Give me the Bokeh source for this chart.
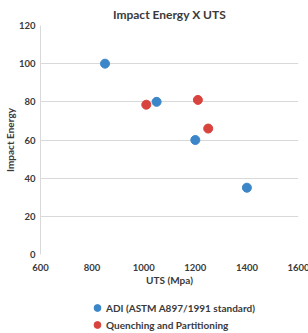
from bokeh.plotting import figure
from bokeh.models import Legend, LegendItem, FixedTicker, Range1d
from bokeh.layouts import column
from bokeh.embed import file_html
from bokeh.resources import INLINE

# Data
adi_uts = [850, 1050, 1200, 1400]
adi_energy = [100, 80, 60, 35]
qp_uts = [1010, 1210, 1250]
qp_energy = [78.5, 81, 66]
series_names = ["ADI (ASTM A897/1991 standard)", "Quenching and Partitioning"]
x_ticks = [600, 800, 1000, 1200, 1400, 1600]
y_ticks = [0, 20, 40, 60, 80, 100, 120]

FONT = "Lato"
TXT = "#3a3a3a"
BLUE = "#3A86C8"
RED = "#D8433D"

p = figure(frame_width=258, frame_height=229, output_backend="svg", toolbar_location=None,
           x_range=Range1d(600, 1600), y_range=Range1d(0, 120),
           min_border_left=39, min_border_right=11, min_border_top=25, min_border_bottom=36)

p.title.text = "Impact Energy X UTS"
p.title.align = "center"
p.title.text_font = FONT
p.title.text_font_size = "12px"
p.title.text_font_style = "bold"
p.title.text_color = TXT
p.title.offset = 0
p.title.standoff = 8

p.outline_line_color = None
p.background_fill_color = "white"
p.border_fill_color = "white"

p.xaxis.ticker = FixedTicker(ticks=x_ticks)
p.yaxis.ticker = FixedTicker(ticks=y_ticks)
for ax in (p.xaxis[0], p.yaxis[0]):
    ax.major_tick_line_color = None
    ax.minor_tick_line_color = None
    ax.major_tick_in = 0
    ax.major_tick_out = 0
    ax.major_label_text_font = FONT
    ax.major_label_text_font_size = "9.5px"
    ax.major_label_text_font_style = "bold"
    ax.major_label_text_color = TXT
    ax.axis_label_text_font = FONT
    ax.axis_label_text_font_size = "10px"
    ax.axis_label_text_font_style = "bold"
    ax.axis_label_text_color = TXT
    ax.axis_label_text_line_height = 1.0
p.xaxis.axis_line_color = None
p.yaxis.axis_line_color = "#d9d9d9"
p.xaxis.axis_label = "UTS (Mpa)"
p.yaxis.axis_label = "Impact Energy"
p.xaxis.major_label_standoff = 9
p.yaxis.major_label_standoff = 5
p.xaxis.axis_label_standoff = 0
p.yaxis.axis_label_standoff = 0

p.xgrid.grid_line_color = None
p.ygrid.grid_line_color = "#d9d9d9"

p.scatter(adi_uts, adi_energy, size=9, color=BLUE)
p.scatter(qp_uts, qp_energy, size=9, color=RED)

# legend strip below the chart (series drawn out of its view, only the legend shows)
p2 = figure(width=308, height=43, output_backend="svg", toolbar_location=None,
            x_range=Range1d(0, 1), y_range=Range1d(0, 1), x_axis_type=None, y_axis_type=None,
            min_border_left=0, min_border_right=0, min_border_top=0, min_border_bottom=0)
p2.outline_line_color = None
p2.xgrid.grid_line_color = None
p2.ygrid.grid_line_color = None
l1 = p2.scatter(adi_uts, adi_energy, size=9, color=BLUE)
l2 = p2.scatter(qp_uts, qp_energy, size=9, color=RED)

legend = Legend(items=[LegendItem(label=series_names[0], renderers=[l1]),
                       LegendItem(label=series_names[1], renderers=[l2])],
                location=(48, 0), orientation="vertical",
                padding=0, margin=0, spacing=0, glyph_width=18, glyph_height=17,
                label_standoff=-4, border_line_color=None, background_fill_alpha=0,
                label_text_font=FONT, label_text_font_size="10px",
                label_text_font_style="bold", label_text_color=TXT)
p2.add_layout(legend, "center")

open("out.html", "w").write(file_html(column(p, p2, spacing=0), INLINE))
